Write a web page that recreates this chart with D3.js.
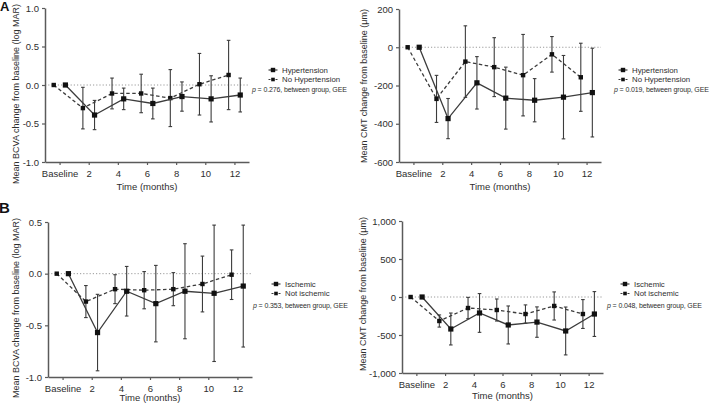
<!DOCTYPE html>
<html>
<head>
<meta charset="utf-8">
<script src="https://cdn.jsdelivr.net/npm/d3@7"></script>
<style>
  body { margin: 0; background: #fff; }
  svg { font-family: "Liberation Sans", Arial, sans-serif; }
</style>
</head>
<body>
<div id="chart"></div>
<script>
// months on the x axis (0 = Baseline)
const months = [0, 2, 4, 6, 8, 10, 12];

// Panel A, BCVA (log MAR)
const bcvaHtnMean = [0, -0.39, -0.18, -0.24, -0.15, -0.18, -0.13];
const bcvaHtnErr = [0, 0.19, 0.14, 0.20, 0.19, 0.30, 0.22];
const bcvaNoHtnMean = [0, -0.30, -0.11, -0.11, -0.17, 0.01, 0.13];
const bcvaNoHtnErr = [0, 0.27, 0.20, 0.25, 0.37, 0.40, 0.45];

// Panel A, CMT (um)
const cmtHtnMean = [0, -373, -186, -266, -277, -261, -237];
const cmtHtnErr = [0, 105, 137, 162, 113, 218, 232];
const cmtNoHtnMean = [0, -270, -75, -104, -146, -37, -157];
const cmtNoHtnErr = [0, 123, 187, 154, 213, 93, 178];

// Panel B, BCVA (log MAR)
const bcvaIscMean = [0, -0.57, -0.17, -0.29, -0.17, -0.19, -0.12];
const bcvaIscErr = [0, 0.37, 0.24, 0.37, 0.46, 0.66, 0.59];
const bcvaNonIscMean = [0, -0.27, -0.15, -0.16, -0.15, -0.10, -0.01];
const bcvaNonIscErr = [0, 0.155, 0.14, 0.18, 0.16, 0.27, 0.24];

// Panel B, CMT (um)
const cmtIscMean = [0, -421, -210, -368, -330, -447, -224];
const cmtIscErr = [0, 210, 255, 250, 200, 315, 295];
const cmtNonIscMean = [0, -316, -145, -171, -224, -118, -224];
const cmtNonIscErr = [0, 80, 140, 145, 120, 185, 190];

// tick labels
const bcvaTicksA = [-1, -0.5, 0, 0.5, 1];
const bcvaTicksB = [-1, -0.5, 0, 0.5];
const cmtTicksA = [-600, -400, -200, 0, 200];
const cmtTicksB = [-1000, -500, 0, 500, 1000];

const groupsA = ["Hypertension", "No Hypertension"];
const groupsB = ["Ischemic", "Not ischemic"];
const pTexts = ["p = 0.276, between group, GEE", "p = 0.019, between group, GEE",
                "p = 0.353, between group, GEE", "p = 0.048, between group, GEE"];

const bcvaLabel = "Mean BCVA change from baseline (log MAR)";
const cmtLabel = "Mean CMT change from baseline (\u03bcm)";

const W = 712, H = 403;
const lineCol = "#3c3c3c";
const axisCol = "#5a5a5a";
const textCol = "#2e2e2e";

const svg = d3.select("#chart").append("svg")
    .attr("width", W).attr("height", H);

function minusFix(f) {
    return d => f(d).replace("\u2212", "-");
}

function drawPanel(cfg) {
    const x = d3.scaleLinear().domain([-1, 13]).range(cfg.xr);
    const y = d3.scaleLinear().domain(cfg.yd).range(cfg.yr);
    const g = svg.append("g");

    // zero reference line
    g.append("line")
        .attr("x1", cfg.xr[0]).attr("x2", cfg.xr[1])
        .attr("y1", y(0)).attr("y2", y(0))
        .attr("stroke", "#9a9a9a").attr("stroke-width", 1)
        .attr("stroke-dasharray", "1.2,2");

    // axes
    const yAxis = g.append("g")
        .attr("transform", `translate(${cfg.xr[0]},0)`)
        .call(d3.axisLeft(y).tickValues(cfg.yticks).tickSize(3).tickSizeOuter(0)
            .tickPadding(3).tickFormat(minusFix(cfg.fmt)));
    const xAxis = g.append("g")
        .attr("transform", `translate(0,${cfg.yr[0]})`)
        .call(d3.axisBottom(x).tickValues(months).tickSize(3).tickSizeOuter(0)
            .tickPadding(3).tickFormat(d => d === 0 ? "Baseline" : d));
    [yAxis, xAxis].forEach(a => {
        a.select(".domain").attr("stroke", axisCol).attr("stroke-width", 1.5);
        a.selectAll(".tick line").attr("stroke", axisCol).attr("stroke-width", 1.2);
        a.selectAll("text").attr("fill", textCol).style("font-size", "9.5px");
    });
    xAxis.selectAll("text").attr("dy", "0.9em");

    // axis titles
    g.append("text")
        .attr("transform", `translate(${cfg.ylabX},${cfg.ylabY}) rotate(-90)`)
        .attr("text-anchor", "middle")
        .attr("fill", textCol).style("font-size", "9px")
        .text(cfg.ylabel);
    g.append("text")
        .attr("x", x(6)).attr("y", cfg.xlabY)
        .attr("text-anchor", "middle")
        .attr("fill", textCol).style("font-size", "9.5px")
        .text("Time (months)");

    // series: dashed group shifted left, solid group shifted right
    const series = [
        { mean: cfg.m2, err: cfg.e2, off: -0.4, dash: "3.5,2.5", r: 2.2 },
        { mean: cfg.m1, err: cfg.e1, off: 0.4, dash: null, r: 2.6 }
    ];
    series.forEach(s => {
        const pts = months.map((m, i) => ({ m: m + s.off, v: s.mean[i], e: s.err[i] }));
        g.append("path")
            .datum(pts)
            .attr("fill", "none")
            .attr("stroke", lineCol)
            .attr("stroke-width", 1.3)
            .attr("stroke-dasharray", s.dash)
            .attr("d", d3.line().x(d => x(d.m)).y(d => y(d.v)));

        const eb = g.selectAll(null).data(pts.filter(d => d.e > 0)).enter().append("g");
        eb.append("line")
            .attr("x1", d => x(d.m)).attr("x2", d => x(d.m))
            .attr("y1", d => y(d.v - d.e)).attr("y2", d => y(d.v + d.e))
            .attr("stroke", lineCol).attr("stroke-width", 1.1);
        [-1, 1].forEach(sgn => {
            eb.append("line")
                .attr("x1", d => x(d.m) - 1.8).attr("x2", d => x(d.m) + 1.8)
                .attr("y1", d => y(d.v + sgn * d.e)).attr("y2", d => y(d.v + sgn * d.e))
                .attr("stroke", lineCol).attr("stroke-width", 1.1);
        });

        g.selectAll(null).data(pts).enter().append("rect")
            .attr("x", d => x(d.m) - s.r).attr("y", d => y(d.v) - s.r)
            .attr("width", s.r * 2).attr("height", s.r * 2)
            .attr("fill", "#111");
    });

    // legend
    const lg = g.append("g").attr("transform", `translate(${cfg.leg[0]},${cfg.leg[1]})`);
    cfg.groups.forEach((name, i) => {
        const row = lg.append("g").attr("transform", `translate(0,${i * 9.5})`);
        row.append("line")
            .attr("x1", -4.5).attr("x2", 4.5).attr("y1", 0).attr("y2", 0)
            .attr("stroke", lineCol).attr("stroke-width", 1.2)
            .attr("stroke-dasharray", i === 1 ? "2,1.5" : null);
        row.append("rect")
            .attr("x", i === 1 ? -1.8 : -2.2).attr("y", i === 1 ? -1.8 : -2.2)
            .attr("width", i === 1 ? 3.6 : 4.4).attr("height", i === 1 ? 3.6 : 4.4)
            .attr("fill", "#111");
        row.append("text")
            .attr("x", 9).attr("y", 0).attr("dy", "0.35em")
            .attr("fill", textCol).style("font-size", "7.8px")
            .text(name);
    });
    const pt = g.append("text")
        .attr("x", cfg.pPos[0]).attr("y", cfg.pPos[1]).attr("dy", "0.35em")
        .attr("fill", textCol).style("font-size", "7px")
        .style("letter-spacing", "-0.12px");
    pt.append("tspan").style("font-style", "italic").text(cfg.pText.slice(0, 1));
    pt.append("tspan").text(cfg.pText.slice(1));
}

drawPanel({
    xr: [45, 249], yr: [162, 8], yd: [-1, 1], yticks: bcvaTicksA, fmt: d3.format(".1f"),
    m1: bcvaHtnMean, e1: bcvaHtnErr, m2: bcvaNoHtnMean, e2: bcvaNoHtnErr,
    groups: groupsA, leg: [273, 70], pPos: [252, 90], pText: pTexts[0],
    ylabel: bcvaLabel, ylabX: 19, ylabY: 94, xlabY: 190
});
drawPanel({
    xr: [399, 601], yr: [162, 9], yd: [-600, 200], yticks: cmtTicksA, fmt: d3.format("d"),
    m1: cmtHtnMean, e1: cmtHtnErr, m2: cmtNoHtnMean, e2: cmtNoHtnErr,
    groups: groupsA, leg: [623, 70], pPos: [614, 90], pText: pTexts[1],
    ylabel: cmtLabel, ylabX: 367, ylabY: 86, xlabY: 190
});
drawPanel({
    xr: [48, 252], yr: [377, 222], yd: [-1, 0.5], yticks: bcvaTicksB, fmt: d3.format(".1f"),
    m1: bcvaIscMean, e1: bcvaIscErr, m2: bcvaNonIscMean, e2: bcvaNonIscErr,
    groups: groupsB, leg: [276, 284], pPos: [253, 306], pText: pTexts[2],
    ylabel: bcvaLabel, ylabX: 19, ylabY: 308, xlabY: 401
});
drawPanel({
    xr: [402, 603], yr: [373, 221], yd: [-1000, 1000], yticks: cmtTicksB, fmt: d3.format(",d"),
    m1: cmtIscMean, e1: cmtIscErr, m2: cmtNonIscMean, e2: cmtNonIscErr,
    groups: groupsB, leg: [625, 284], pPos: [607, 306], pText: pTexts[3],
    ylabel: cmtLabel, ylabX: 366, ylabY: 294, xlabY: 399
});

// panel letters
svg.append("text").attr("x", 0).attr("y", 11)
    .style("font-size", "13px").style("font-weight", "bold").attr("fill", "#111").text("A");
svg.append("text").attr("x", -1).attr("y", 213)
    .style("font-size", "15px").style("font-weight", "bold").attr("fill", "#111").text("B");
</script>
</body>
</html>
